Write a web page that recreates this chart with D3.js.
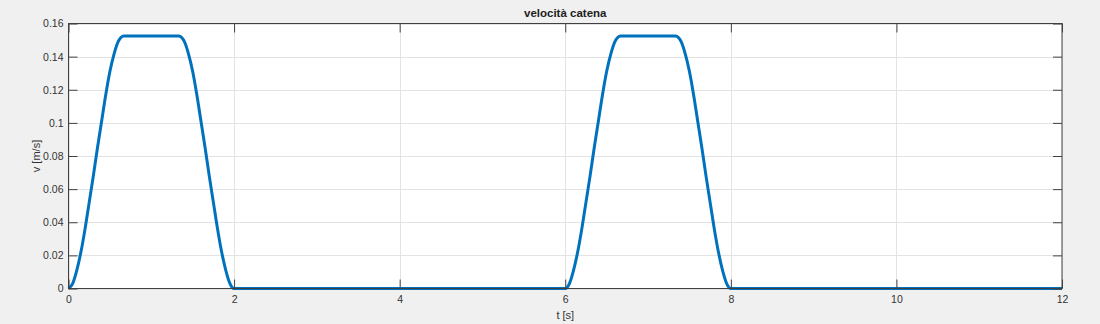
<!DOCTYPE html>
<html>
<head>
<meta charset="utf-8">
<script src="https://cdn.jsdelivr.net/npm/d3@7"></script>
<style>
  body { margin: 0; background: #f0f0f0; }
  svg { display: block; font-family: "Liberation Sans", Arial, sans-serif; }
</style>
</head>
<body>
<div id="chart"></div>
<script>
// velocita' catena
var times = [
  0, 0.05, 0.1, 0.15, 0.2, 0.25, 0.3, 0.35, 0.4, 0.45, 0.5, 0.55, 0.6, 0.633, 0.667,
  1.333, 1.367, 1.4, 1.45, 1.5, 1.55, 1.6, 1.65, 1.7, 1.75, 1.8, 1.85, 1.9, 1.95, 2.0,
  6.0, 6.05, 6.1, 6.15, 6.2, 6.25, 6.3, 6.35, 6.4, 6.45, 6.5, 6.55, 6.6, 6.633, 6.667,
  7.333, 7.367, 7.4, 7.45, 7.5, 7.55, 7.6, 7.65, 7.7, 7.75, 7.8, 7.85, 7.9, 7.95, 8.0,
  12
];
var speeds = [
  0, 0.003, 0.011, 0.022, 0.036, 0.052, 0.068, 0.085, 0.101, 0.117, 0.131, 0.1415, 0.149, 0.1515, 0.1525,
  0.1525, 0.1515, 0.149, 0.1415, 0.131, 0.117, 0.101, 0.085, 0.068, 0.052, 0.036, 0.022, 0.011, 0.003, 0,
  0, 0.003, 0.011, 0.022, 0.036, 0.052, 0.068, 0.085, 0.101, 0.117, 0.131, 0.1415, 0.149, 0.1515, 0.1525,
  0.1525, 0.1515, 0.149, 0.1415, 0.131, 0.117, 0.101, 0.085, 0.068, 0.052, 0.036, 0.022, 0.011, 0.003, 0,
  0
];
var xTicks = [0, 2, 4, 6, 8, 10, 12];
var yTicks = [0, 0.02, 0.04, 0.06, 0.08, 0.1, 0.12, 0.14, 0.16];
var yTickLabels = ["0", "0.02", "0.04", "0.06", "0.08", "0.1", "0.12", "0.14", "0.16"];

var W = 1100, H = 324;
var axLeft = 68.5, axRight = 1062, axTop = 23.5, axBottom = 288.5;
var tickLen = 9;
var axisColor = "#404040";

var x = d3.scaleLinear().domain([0, 12]).range([axLeft, axRight]);
var y = d3.scaleLinear().domain([0, 0.16]).range([axBottom, axTop]);

var svg = d3.select("#chart").append("svg")
  .attr("width", W)
  .attr("height", H);

svg.append("rect")
  .attr("width", W).attr("height", H)
  .attr("fill", "#f0f0f0");

svg.append("rect")
  .attr("x", axLeft).attr("y", axTop)
  .attr("width", axRight - axLeft).attr("height", axBottom - axTop)
  .attr("fill", "#ffffff");

// grid
var grid = svg.append("g").attr("stroke", "#e3e3e3").attr("stroke-width", 1);
grid.selectAll("line.gx").data(xTicks).enter().append("line")
  .attr("x1", function(d) { return Math.round(x(d)) + 0.5; })
  .attr("x2", function(d) { return Math.round(x(d)) + 0.5; })
  .attr("y1", axTop).attr("y2", axBottom);
grid.selectAll("line.gy").data(yTicks).enter().append("line")
  .attr("x1", axLeft).attr("x2", axRight)
  .attr("y1", function(d) { return Math.round(y(d)) + 0.5; })
  .attr("y2", function(d) { return Math.round(y(d)) + 0.5; });

// curve
var pts = times.map(function(t, i) { return [t, speeds[i]]; });
var line = d3.line()
  .x(function(d) { return x(d[0]); })
  .y(function(d) { return y(d[1]); })
  .curve(d3.curveMonotoneX);

svg.append("path")
  .datum(pts)
  .attr("d", line)
  .attr("fill", "none")
  .attr("stroke", "#0072BD")
  .attr("stroke-width", 3)
  .attr("stroke-linejoin", "round");

// axes, ticks pointing inward
var xAxisB = d3.axisBottom(x).tickValues(xTicks).tickSizeInner(-tickLen).tickSizeOuter(0)
  .tickPadding(7).tickFormat(d3.format("d"));
var xAxisT = d3.axisTop(x).tickValues(xTicks).tickSizeInner(-tickLen).tickSizeOuter(0).tickFormat("");
var yAxisL = d3.axisLeft(y).tickValues(yTicks).tickSizeInner(-tickLen).tickSizeOuter(0)
  .tickPadding(5).tickFormat(function(d, i) { return yTickLabels[i]; });
var yAxisR = d3.axisRight(y).tickValues(yTicks).tickSizeInner(-tickLen).tickSizeOuter(0).tickFormat("");

function styleAxis(g) {
  g.select(".domain").remove();
  g.selectAll(".tick line").attr("stroke", axisColor);
  g.selectAll(".tick text")
    .attr("fill", "#333")
    .style("font-size", "10.5px")
    .style("font-family", "'Liberation Sans', Arial, sans-serif");
}

svg.append("g").attr("transform", "translate(0," + axBottom + ")").call(xAxisB).call(styleAxis);
svg.append("g").attr("transform", "translate(0," + axTop + ")").call(xAxisT).call(styleAxis);
svg.append("g").attr("transform", "translate(" + axLeft + ",0)").call(yAxisL).call(styleAxis);
svg.append("g").attr("transform", "translate(" + axRight + ",0)").call(yAxisR).call(styleAxis);

// box
svg.append("rect")
  .attr("x", axLeft).attr("y", axTop)
  .attr("width", axRight - axLeft).attr("height", axBottom - axTop)
  .attr("fill", "none")
  .attr("stroke", axisColor)
  .attr("stroke-width", 1);

// title and labels
svg.append("text")
  .attr("x", (axLeft + axRight) / 2).attr("y", 17)
  .attr("text-anchor", "middle")
  .style("font-size", "11.5px").style("font-weight", "bold")
  .attr("fill", "#222")
  .text("velocità catena");

svg.append("text")
  .attr("x", (axLeft + axRight) / 2).attr("y", 319)
  .attr("text-anchor", "middle")
  .style("font-size", "11px")
  .attr("fill", "#333")
  .text("t [s]");

svg.append("text")
  .attr("transform", "translate(40," + ((axTop + axBottom) / 2) + ") rotate(-90)")
  .attr("text-anchor", "middle")
  .style("font-size", "11px")
  .attr("fill", "#333")
  .text("v [m/s]");
</script>
</body>
</html>
